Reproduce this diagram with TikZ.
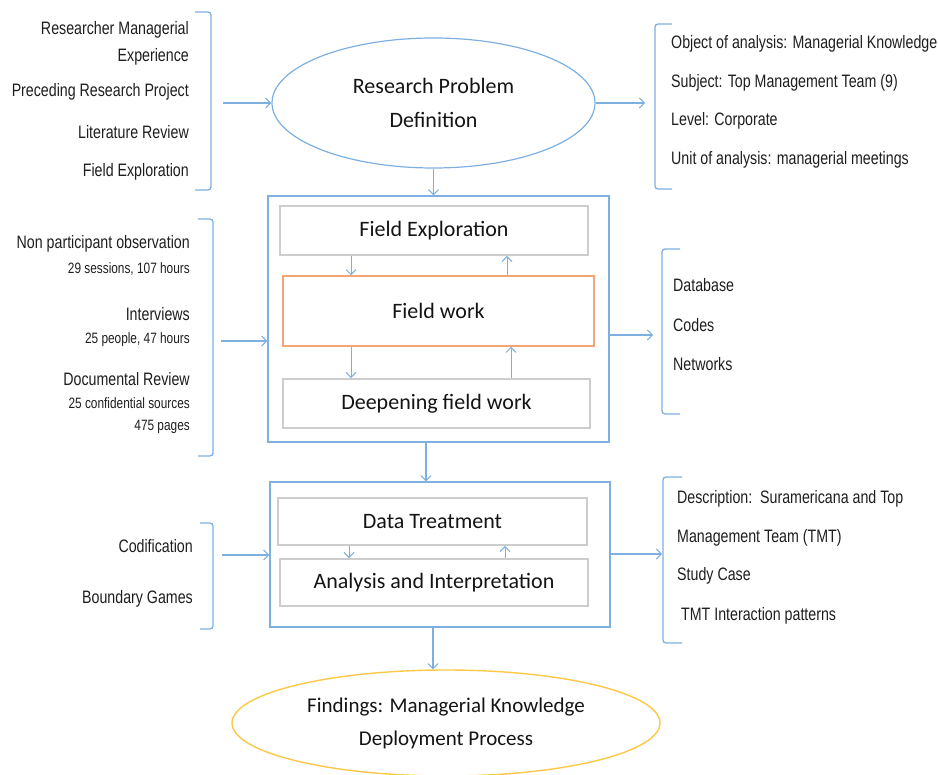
\documentclass[tikz,border=0pt]{standalone}
\usepackage{fontspec}
\setmainfont{Carlito}
\newfontfamily\narrowfont[FakeStretch=0.79]{Liberation Sans}
\usetikzlibrary{shapes.geometric,arrows.meta}

\definecolor{blueline}{RGB}{125,175,225}
\definecolor{grayline}{RGB}{205,205,205}
\definecolor{orangeline}{RGB}{244,165,120}
\definecolor{yellowline}{RGB}{252,200,70}
\definecolor{sidegray}{RGB}{30,30,30}
\definecolor{boxtext}{RGB}{20,20,20}

\tikzset{
  flow/.style={-{Straight Barb[length=5pt,width=10pt,line width=1pt]},draw=blueline,line width=1.2pt},
  bracketline/.style={draw=blueline,line width=1.3pt,rounded corners=3pt},
  stagebox/.style={draw=blueline,line width=1.4pt,inner sep=0pt},
  taskbox/.style={draw=grayline,line width=1.8pt,inner sep=0pt,
    font=\fontsize{22}{26}\selectfont,text=boxtext},
  sidetext/.style={font=\narrowfont\fontsize{18}{20}\selectfont,text=sidegray,inner sep=0pt},
  sidesmall/.style={font=\narrowfont\fontsize{15}{16}\selectfont,text=sidegray,inner sep=0pt}
}

\begin{document}
\begin{tikzpicture}[x=1pt,y=-1pt]

	\useasboundingbox (0,0) rectangle (938,775);

	% research problem
	\node[ellipse,draw=blueline,line width=1.2pt,minimum width=323pt,minimum height=130pt,
	  inner sep=0pt,align=center,font=\fontsize{22}{34}\selectfont,text=boxtext]
	  (rpd) at (433.5,103) {Research Problem\\Definition};

	% inputs of the problem
	\draw[bracketline] (195,12)--(211,12)--(211,190)--(195,190);
	\draw (189,35) node[sidetext,anchor=base east] (in1) {Researcher Managerial};
	\draw (189,62) node[sidetext,anchor=base east] (in2) {Experience};
	\draw (189,97) node[sidetext,anchor=base east] (in3) {Preceding Research Project};
	\draw (189,139) node[sidetext,anchor=base east] (in4) {Literature Review};
	\draw (189,177) node[sidetext,anchor=base east] (in5) {Field Exploration};
	\coordinate (inA) at (223,103);
	\draw[flow] (inA)--(rpd.west);

	% outputs of the problem
	\draw[bracketline] (672,24)--(655,24)--(655,189)--(672,189);
	\draw (671,49) node[sidetext,anchor=base west] (out1) {Object of analysis: Managerial Knowledge};
	\draw (671,88) node[sidetext,anchor=base west] (out2) {Subject: Top Management Team (9)};
	\draw (671,126) node[sidetext,anchor=base west] (out3) {Level: Corporate};
	\draw (671,165) node[sidetext,anchor=base west] (out4) {Unit of analysis: managerial meetings};
	\coordinate (outA) at (645,103);
	\draw[flow] (rpd.east)--(outA);

	% field stage
	\node[stagebox,minimum width=341pt,minimum height=246pt] (fieldstage) at (438.5,319) {};
	\node[taskbox,minimum width=308pt,minimum height=49pt] (fe) at (434,230.5) {Field Exploration};
	\node[taskbox,draw=orangeline,line width=1.5pt,minimum width=311pt,minimum height=70pt] (fw) at (438.5,311) {Field work};
	\node[taskbox,minimum width=307pt,minimum height=49pt] (dfw) at (436.5,403.5) {Deepening field work};
	\draw[flow] (rpd.south)--(rpd.south |- fieldstage.north);

	% loops inside the field stage
	\coordinate (lcol) at (351,0);
	\coordinate (rcol) at (507,0);
	\coordinate (rcolb) at (511,0);
	\draw[flow,line width=1pt] (fe.south -| lcol)--(fw.north -| lcol);
	\draw[flow,line width=1pt] (fw.north -| rcol)--(fe.south -| rcol);
	\draw[flow,line width=1pt] (fw.south -| lcol)--(dfw.north -| lcol);
	\draw[flow,line width=1pt] (dfw.north -| rcolb)--(fw.south -| rcolb);

	% sources of the field work
	\draw[bracketline] (198,219)--(213,219)--(213,456)--(198,456);
	\draw (190,249) node[sidetext,anchor=base east] (src1) {Non participant observation};
	\draw (190,274) node[sidesmall,anchor=base east] (src2) {29 sessions, 107 hours};
	\draw (190,321) node[sidetext,anchor=base east] (src3) {Interviews};
	\draw (190,344) node[sidesmall,anchor=base east] (src4) {25 people, 47 hours};
	\draw (190,386) node[sidetext,anchor=base east] (src5) {Documental Review};
	\draw (190,409) node[sidesmall,anchor=base east] (src6) {25 confidential sources};
	\draw (190,431) node[sidesmall,anchor=base east] (src7) {475 pages};
	\coordinate (inB) at (221,341);
	\draw[flow] (inB)--(inB -| fieldstage.west);

	% products of the field work
	\draw[bracketline] (680,249)--(662,249)--(662,414)--(680,414);
	\draw (673,292) node[sidetext,anchor=base west] (prod1) {Database};
	\draw (673,332) node[sidetext,anchor=base west] (prod2) {Codes};
	\draw (673,371) node[sidetext,anchor=base west] (prod3) {Networks};
	\coordinate (outB) at (653,335);
	\draw[flow] (outB -| fieldstage.east)--(outB);

	% analysis stage
	\node[stagebox,minimum width=340pt,minimum height=145pt] (anstage) at (440,554.5) {};
	\node[taskbox,minimum width=309pt,minimum height=47pt] (dt) at (432.5,521.5) {Data Treatment};
	\node[taskbox,minimum width=308pt,minimum height=47pt] (ai) at (434,582.5) {Analysis and Interpretation};
	\coordinate (mcol) at (426,0);
	\draw[flow] (fieldstage.south -| mcol)--(anstage.north -| mcol);
	\coordinate (lcolc) at (349,0);
	\coordinate (rcolc) at (505,0);
	\draw[flow,line width=1pt] (dt.south -| lcolc)--(ai.north -| lcolc);
	\draw[flow,line width=1pt] (ai.north -| rcolc)--(dt.south -| rcolc);

	% tools of the analysis
	\draw[bracketline] (200,523)--(213,523)--(213,629)--(200,629);
	\draw (193,553) node[sidetext,anchor=base east] (tool1) {Codification};
	\draw (193,604) node[sidetext,anchor=base east] (tool2) {Boundary Games};
	\coordinate (inC) at (222,555);
	\draw[flow] (inC)--(inC -| anstage.west);

	% results of the analysis
	\draw[bracketline] (682,477)--(663,477)--(663,643)--(682,643);
	\draw (677,504) node[sidetext,anchor=base west] (res1) {Description:\ \ Suramericana and Top};
	\draw (677,543) node[sidetext,anchor=base west] (res2) {Management Team (TMT)};
	\draw (677,581) node[sidetext,anchor=base west] (res3) {Study Case};
	\draw (681,620) node[sidetext,anchor=base west] (res4) {TMT Interaction\ patterns};
	\coordinate (outC) at (662,554);
	\draw[flow] (outC -| anstage.east)--(outC);

	% findings
	\node[ellipse,draw=yellowline,line width=1.4pt,minimum width=428pt,minimum height=106pt,
	  inner sep=0pt,align=center,font=\fontsize{21}{33}\selectfont,text=boxtext]
	  (findings) at (446,723) {Findings: Managerial Knowledge\\Deployment\ Process};
	\coordinate (fcol) at (433,0);
	\draw[flow] (anstage.south -| fcol)--(findings.north -| fcol);

\end{tikzpicture}
\end{document}
